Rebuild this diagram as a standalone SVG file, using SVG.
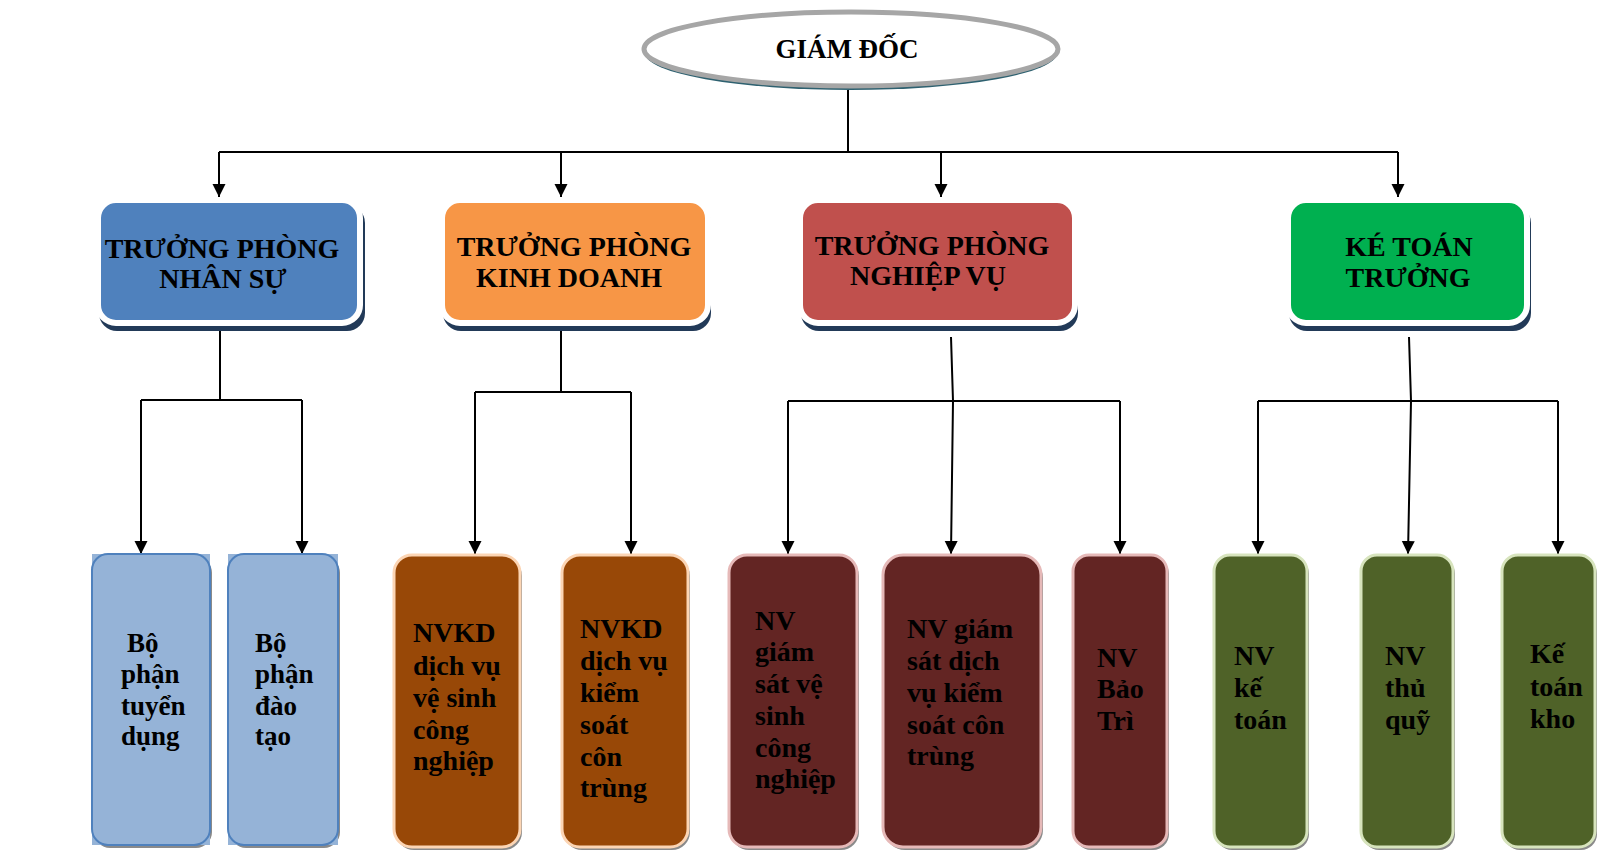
<svg xmlns="http://www.w3.org/2000/svg" width="1600" height="862" viewBox="0 0 1600 862">
<defs>
<marker id="arr" markerUnits="userSpaceOnUse" markerWidth="14" markerHeight="14" refX="13" refY="6.5" orient="auto">
<path d="M0,0 L13,6.5 L0,13 z" fill="#000"/>
</marker>
<style>
text{font-family:"Liberation Serif","Times New Roman",serif;font-weight:bold;fill:#000;}
.t1{font-size:28px;text-anchor:middle;}
.t2{font-size:27px;}
.conn{fill:none;stroke:#000;stroke-width:2;}
.arr{marker-end:url(#arr);}
.sh{fill:#223a58;}
.top{stroke:#fff;stroke-width:6;}
.sh2{fill:#2a2a2a;opacity:0.55;}
</style>
</defs>
<rect width="1600" height="862" fill="#fff"/>

<g id="connectors">
<path class="conn" d="M848,90 V152 M219,152 H1398"/>
<path class="conn arr" d="M219,152 V197"/>
<path class="conn arr" d="M561,152 V197"/>
<path class="conn arr" d="M941,152 V197"/>
<path class="conn arr" d="M1398,152 V197"/>

<path class="conn" d="M220,330 V400 M141,400 H302"/>
<path class="conn arr" d="M141,400 V554"/>
<path class="conn arr" d="M302,400 V554"/>

<path class="conn" d="M561,330 V392 M475,392 H631"/>
<path class="conn arr" d="M475,392 V554"/>
<path class="conn arr" d="M631,392 V554"/>

<path class="conn" d="M788,401 H1120"/>
<path class="conn arr" d="M951,337 L953,401 L951,554"/>
<path class="conn arr" d="M788,401 V554"/>
<path class="conn arr" d="M1120,401 V554"/>

<path class="conn" d="M1258,401 H1558"/>
<path class="conn arr" d="M1409,337 L1411,401 L1408,554"/>
<path class="conn arr" d="M1258,401 V554"/>
<path class="conn arr" d="M1558,401 V554"/>
</g>

<g id="giam-doc">
<ellipse cx="851" cy="53" rx="206" ry="37" fill="#2e6170"/>
<ellipse cx="851" cy="49" rx="207" ry="37" fill="#fff" stroke="#a6a6a6" stroke-width="5"/>
<text class="t1" x="847" y="58" style="font-size:27px">GIÁM ĐỐC</text>
</g>

<g id="tp-nhan-su">
<rect class="sh" x="99" y="205" width="266" height="126" rx="18"/>
<rect class="top" x="98" y="200" width="262" height="123" rx="18" fill="#4f81bd"/>
<text class="t1" x="222"><tspan x="222" y="258">TRƯỞNG PHÒNG</tspan><tspan x="223" y="288">NHÂN SỰ</tspan></text>
</g>

<g id="tp-kinh-doanh">
<rect class="sh" x="443" y="205" width="268" height="126" rx="18"/>
<rect class="top" x="442" y="200" width="266" height="123" rx="18" fill="#f79646"/>
<text class="t1"><tspan x="574" y="256">TRƯỞNG PHÒNG</tspan><tspan x="569" y="287">KINH DOANH</tspan></text>
</g>

<g id="tp-nghiep-vu">
<rect class="sh" x="801" y="205" width="277" height="126" rx="18"/>
<rect class="top" x="800" y="200" width="275" height="123" rx="18" fill="#c0504d"/>
<text class="t1"><tspan x="932" y="255">TRƯỞNG PHÒNG</tspan><tspan x="928" y="285">NGHIỆP VỤ</tspan></text>
</g>

<g id="ke-toan-truong">
<rect class="sh" x="1289" y="205" width="242" height="126" rx="18"/>
<rect class="top" x="1288" y="200" width="239" height="123" rx="18" fill="#00b050"/>
<text class="t1"><tspan x="1409" y="256">KÉ TOÁN</tspan><tspan x="1408" y="287">TRƯỞNG</tspan></text>
</g>

<g id="bp-tuyen-dung">
<rect class="sh2" x="94" y="557" width="118" height="291" rx="16"/>
<rect x="92" y="554" width="118" height="291" fill="#95b3d7"/>
<rect x="92" y="554" width="118" height="291" rx="16" fill="#95b3d7" stroke="#4f81bd" stroke-width="2"/>
<text class="t2"><tspan x="127" y="652">Bộ</tspan><tspan x="121" y="683">phận</tspan><tspan x="121" y="715">tuyển</tspan><tspan x="121" y="745">dụng</tspan></text>
</g>

<g id="bp-dao-tao">
<rect class="sh2" x="230" y="557" width="110" height="291" rx="16"/>
<rect x="228" y="554" width="110" height="291" fill="#95b3d7"/>
<rect x="228" y="554" width="110" height="291" rx="16" fill="#95b3d7" stroke="#4f81bd" stroke-width="2"/>
<text class="t2"><tspan x="255" y="652">Bộ</tspan><tspan x="255" y="683">phận</tspan><tspan x="255" y="715">đào</tspan><tspan x="255" y="745">tạo</tspan></text>
</g>

<g id="nvkd-ve-sinh">
<rect class="sh2" x="396" y="558" width="126" height="292" rx="18"/>
<rect x="394" y="555" width="126" height="292" rx="18" fill="#984807" stroke="#fcd5b4" stroke-width="3"/>
<text class="t2" style="font-size:28px"><tspan x="413" y="642">NVKD</tspan><tspan x="413" y="675">dịch vụ</tspan><tspan x="413" y="707">vệ sinh</tspan><tspan x="413" y="739">công</tspan><tspan x="413" y="770">nghiệp</tspan></text>
</g>

<g id="nvkd-kiem-soat">
<rect class="sh2" x="564" y="558" width="126" height="292" rx="18"/>
<rect x="562" y="555" width="126" height="292" rx="18" fill="#984807" stroke="#fcd5b4" stroke-width="3"/>
<text class="t2" style="font-size:28px"><tspan x="580" y="638">NVKD</tspan><tspan x="580" y="670">dịch vụ</tspan><tspan x="580" y="702">kiểm</tspan><tspan x="580" y="734">soát</tspan><tspan x="580" y="766">côn</tspan><tspan x="580" y="797">trùng</tspan></text>
</g>

<g id="nv-gs-ve-sinh">
<rect class="sh2" x="731" y="558" width="128" height="292" rx="18"/>
<rect x="729" y="555" width="128" height="292" rx="18" fill="#632523" stroke="#e6b9b8" stroke-width="3"/>
<text class="t2" style="font-size:28px"><tspan x="755" y="630">NV</tspan><tspan x="755" y="661">giám</tspan><tspan x="755" y="693">sát vệ</tspan><tspan x="755" y="725">sinh</tspan><tspan x="755" y="757">công</tspan><tspan x="755" y="788">nghiệp</tspan></text>
</g>

<g id="nv-gs-kiem-soat">
<rect class="sh2" x="885" y="558" width="158" height="292" rx="20"/>
<rect x="883" y="555" width="158" height="292" rx="20" fill="#632523" stroke="#e6b9b8" stroke-width="3"/>
<text class="t2" style="font-size:28px"><tspan x="907" y="638">NV giám</tspan><tspan x="907" y="670">sát dịch</tspan><tspan x="907" y="702">vụ kiểm</tspan><tspan x="907" y="734">soát côn</tspan><tspan x="907" y="765">trùng</tspan></text>
</g>

<g id="nv-bao-tri">
<rect class="sh2" x="1075" y="558" width="94" height="292" rx="16"/>
<rect x="1073" y="555" width="94" height="292" rx="16" fill="#632523" stroke="#e6b9b8" stroke-width="3"/>
<text class="t2" style="font-size:28px"><tspan x="1097" y="667">NV</tspan><tspan x="1097" y="698">Bảo</tspan><tspan x="1097" y="730">Trì</tspan></text>
</g>

<g id="nv-ke-toan">
<rect class="sh2" x="1216" y="558" width="93" height="292" rx="16"/>
<rect x="1214" y="555" width="93" height="292" rx="16" fill="#4f6228" stroke="#d7e4bd" stroke-width="3"/>
<text class="t2" style="font-size:28px"><tspan x="1234" y="665">NV</tspan><tspan x="1234" y="697">kế</tspan><tspan x="1234" y="729">toán</tspan></text>
</g>

<g id="nv-thu-quy">
<rect class="sh2" x="1363" y="558" width="92" height="292" rx="16"/>
<rect x="1361" y="555" width="92" height="292" rx="16" fill="#4f6228" stroke="#d7e4bd" stroke-width="3"/>
<text class="t2" style="font-size:28px"><tspan x="1385" y="665">NV</tspan><tspan x="1385" y="697">thủ</tspan><tspan x="1385" y="729">quỹ</tspan></text>
</g>

<g id="ke-toan-kho">
<rect class="sh2" x="1504" y="558" width="93" height="292" rx="16"/>
<rect x="1502" y="555" width="93" height="292" rx="16" fill="#4f6228" stroke="#d7e4bd" stroke-width="3"/>
<text class="t2" style="font-size:28px"><tspan x="1530" y="663">Kế</tspan><tspan x="1530" y="696">toán</tspan><tspan x="1530" y="728">kho</tspan></text>
</g>
</svg>
